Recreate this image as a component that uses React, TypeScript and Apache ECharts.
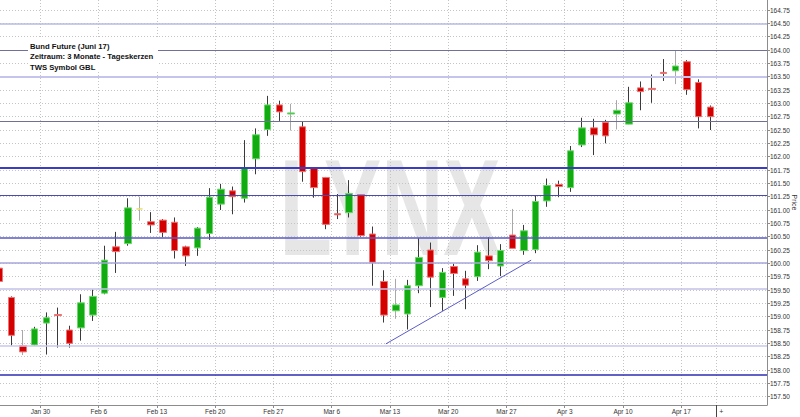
import React, { useEffect, useRef } from 'react';
import * as echarts from 'echarts';

// Trading days shown (one candle per weekday)
const dates = [
  '2017-01-24', '2017-01-25', '2017-01-26', '2017-01-27', '2017-01-30', '2017-01-31',
  '2017-02-01', '2017-02-02', '2017-02-03', '2017-02-06', '2017-02-07', '2017-02-08', '2017-02-09', '2017-02-10',
  '2017-02-13', '2017-02-14', '2017-02-15', '2017-02-16', '2017-02-17', '2017-02-20', '2017-02-21', '2017-02-22',
  '2017-02-23', '2017-02-24', '2017-02-27', '2017-02-28', '2017-03-01', '2017-03-02', '2017-03-03', '2017-03-06',
  '2017-03-07', '2017-03-08', '2017-03-09', '2017-03-10', '2017-03-13', '2017-03-14', '2017-03-15', '2017-03-16',
  '2017-03-17', '2017-03-20', '2017-03-21', '2017-03-22', '2017-03-23', '2017-03-24', '2017-03-27', '2017-03-28',
  '2017-03-29', '2017-03-30', '2017-03-31', '2017-04-03', '2017-04-04', '2017-04-05', '2017-04-06', '2017-04-07',
  '2017-04-10', '2017-04-11', '2017-04-12', '2017-04-13', '2017-04-14', '2017-04-17', '2017-04-18', '2017-04-19',
];

const open = [
  159.91, 159.36, 158.46, 158.47, 158.88, 159.04, 158.75, 158.79, 159.03, 159.44,
  160.31, 160.37, 161.02, 160.78, 160.81, 160.77, 160.31, 160.29, 160.56, 161.11,
  161.36, 161.22, 161.96, 162.51, 162.97, 162.80, 162.56, 161.79, 161.61, 160.93,
  160.95, 161.29, 160.55, 159.66, 159.11, 159.05, 159.58, 160.25, 159.36, 159.94,
  159.71, 159.75, 160.14, 159.95, 160.53, 160.24, 160.26, 161.17, 161.48, 161.42,
  162.22, 162.54, 162.64, 162.80, 162.61, 163.29, 163.28, 163.58, 163.61, 163.78,
  163.39, 162.93,
];
const high = [
  159.93, 159.38, 158.75, 158.81, 159.08, 159.17, 158.83, 159.42, 159.51, 160.33,
  160.59, 161.22, 161.25, 160.96, 160.83, 160.86, 160.33, 160.68, 161.41, 161.49,
  161.44, 162.31, 162.53, 163.14, 163.05, 162.99, 162.66, 161.80, 161.62, 161.30,
  161.56, 161.30, 160.69, 159.87, 159.71, 159.69, 160.47, 160.39, 159.91, 159.99,
  159.86, 160.34, 160.49, 160.36, 161.02, 160.72, 161.27, 161.59, 161.55, 162.20,
  162.73, 162.71, 162.69, 163.06, 163.31, 163.41, 163.54, 163.83, 164.00, 163.81,
  163.45, 162.96,
];
const low = [
  159.44, 158.46, 158.28, 158.46, 158.29, 158.42, 158.42, 158.55, 158.92, 159.42,
  159.82, 160.33, 160.80, 160.57, 160.49, 160.09, 159.95, 160.14, 160.44, 161.00,
  160.92, 161.14, 161.67, 162.39, 162.67, 162.49, 161.53, 161.23, 160.64, 160.83,
  160.86, 160.50, 159.58, 158.89, 158.96, 158.76, 159.44, 159.18, 159.11, 159.39,
  159.14, 159.67, 159.89, 159.76, 160.28, 160.16, 160.19, 161.06, 161.24, 161.34,
  162.18, 162.03, 162.25, 162.51, 162.61, 162.87, 163.01, 163.42, 163.36, 163.16,
  162.53, 162.50,
];
const close = [
  159.66, 158.65, 158.34, 158.77, 158.98, 159.02, 158.50, 159.26, 159.38, 160.06,
  160.22, 161.04, 161.02, 160.72, 160.58, 160.24, 160.14, 160.66, 161.24, 161.39,
  161.25, 161.79, 162.41, 162.97, 162.84, 162.82, 161.72, 161.42, 160.73, 160.91,
  161.31, 160.52, 160.02, 159.03, 159.22, 159.58, 160.11, 159.74, 159.83, 159.81,
  159.59, 160.21, 160.05, 160.24, 160.28, 160.61, 161.16, 161.46, 161.44, 162.11,
  162.54, 162.41, 162.39, 162.87, 163.01, 163.22, 163.26, 163.56, 163.70, 163.26,
  162.75, 162.75,
];

const weekLabels = ['Jan 30', 'Feb 6', 'Feb 13', 'Feb 20', 'Feb 27', 'Mar 6', 'Mar 13', 'Mar 20', 'Mar 27', 'Apr 3', 'Apr 10', 'Apr 17'];
const weekDates = ['2017-01-30', '2017-02-06', '2017-02-13', '2017-02-20', '2017-02-27', '2017-03-06', '2017-03-13', '2017-03-20', '2017-03-27', '2017-04-03', '2017-04-10', '2017-04-17'];

const priceTicks = [
  157.5, 157.75, 158.0, 158.25, 158.5, 158.75, 159.0, 159.25, 159.5, 159.75, 160.0, 160.25,
  160.5, 160.75, 161.0, 161.25, 161.5, 161.75, 162.0, 162.25, 162.5, 162.75, 163.0, 163.25,
  163.5, 163.75, 164.0, 164.25, 164.5, 164.75,
];

// horizontal support / resistance levels
const levelValues = [164.5, 164.0, 163.5, 162.66, 161.8, 161.27, 160.48, 160.02, 159.52, 158.45, 157.91];
// trend line: [trading-day index, price]
const trendLine = [[33.15, 158.49], [45.62, 160.06]];

const unchangedDays = [12];
const lightWickDays = [2, 12, 25, 34, 44, 53, 58];

const titleLines = ['Bund Future (Juni 17)', 'Zeitraum: 3 Monate - Tageskerzen', 'TWS Symbol GBL'];

export default function App() {
  const ref = useRef<HTMLDivElement>(null);
  useEffect(() => {
    const chart = echarts.init(ref.current!, null, { renderer: 'svg' });
    const FONT = 'Liberation Sans';
    const X_MIN = 0.0258;
    const X_MAX = 65.863;
    const Y_MIN = 157.34375;
    const Y_MAX = 164.9375;

    const boundaries = weekDates.map((d) => dates.findIndex((x) => x >= d) - 0.5);
    const endMark = dates.length - 0.5;
    const labelFor = (v: number) => {
      const k = boundaries.findIndex((b) => Math.abs(b - v) < 1e-6);
      return k >= 0 ? weekLabels[k] : '';
    };

    const levelStyles = [
      { color: '#b8b8e6', width: 1.5 },
      { color: '#70709a', width: 1 },
      { color: '#c4c4ec', width: 2 },
      { color: '#707094', width: 1 },
      { color: '#3c3cc0', width: 2 },
      { color: '#4a4ab0', width: 1 },
      { color: '#5a5ac4', width: 1.5 },
      { color: '#a6a6dc', width: 1.5 },
      { color: '#c2c2ea', width: 1.5 },
      { color: '#c8c8ee', width: 1.5 },
      { color: '#2c2cb4', width: 1.5 },
    ];

    const GREEN = '#12ac12';
    const GREEN_B = '#6cd86c';
    const RED = '#d40000';
    const RED_B = '#ec7474';
    const YELLOW = '#e8e070';

    const bodyData = dates.map((_, i) => {
      const v = [i, open[i], close[i], Math.min(open[i], close[i]), Math.max(open[i], close[i])];
      if (unchangedDays.includes(i)) {
        return {
          value: v,
          itemStyle: { color: YELLOW, color0: YELLOW, borderColor: YELLOW, borderColor0: YELLOW, borderColorDoji: YELLOW },
        };
      }
      return v;
    });
    const wickData = dates.map((_, i) => {
      const v = [i, open[i], close[i], low[i], high[i]];
      if (lightWickDays.includes(i)) {
        const c = '#a8a8a8';
        return { value: v, itemStyle: { color: c, color0: c, borderColor: c, borderColor0: c, borderColorDoji: c } };
      }
      return v;
    });

    const gridDots = { color: '#c4c4c4', type: [1, 2] as any, width: 1 };

    const option: any = {
      animation: false,
      backgroundColor: '#ffffff',
      grid: { left: 0, top: 0, right: 33, bottom: 12, containLabel: false, outerBoundsMode: 'none' },
      xAxis: [
        {
          type: 'value',
          min: X_MIN,
          max: X_MAX,
          position: 'bottom',
          axisLine: { show: true, lineStyle: { color: '#8c8c8c', width: 1 } },
          axisTick: { show: true, length: 3, customValues: [...boundaries, endMark], lineStyle: { color: '#8c8c8c' } },
          axisLabel: {
            customValues: boundaries,
            formatter: (v: number) => labelFor(v),
            fontSize: 6.5,
            fontFamily: FONT,
            color: '#333',
            margin: 3,
          },
          splitLine: { show: true, lineStyle: gridDots },
        },
        {
          type: 'value',
          min: X_MIN,
          max: X_MAX,
          position: 'bottom',
          axisLine: { show: false },
          axisTick: { show: true, length: 12, customValues: [endMark], lineStyle: { color: '#444' } },
          axisLabel: {
            customValues: [endMark],
            formatter: () => '+',
            fontSize: 7,
            fontFamily: FONT,
            color: '#333',
            align: 'left',
            padding: [0, 0, 0, 3],
            margin: 3,
          },
          splitLine: { show: false },
        },
      ],
      yAxis: {
        type: 'value',
        position: 'right',
        min: Y_MIN,
        max: Y_MAX,
        name: 'Price',
        nameLocation: 'middle',
        nameRotate: -90,
        nameGap: 24,
        nameMoveOverlap: false,
        nameTextStyle: { fontSize: 7, fontFamily: FONT, color: '#333' },
        axisLine: { show: true, lineStyle: { color: '#8c8c8c', width: 1 } },
        axisTick: { show: true, length: 3, customValues: priceTicks, lineStyle: { color: '#8c8c8c' } },
        axisLabel: {
          customValues: priceTicks,
          formatter: (v: number) => v.toFixed(2),
          fontSize: 6.5,
          fontFamily: FONT,
          color: '#333',
          margin: 3,
        },
        splitLine: { show: true, lineStyle: gridDots },
      },
      graphic: {
        elements: [
          {
            type: 'text',
            x: 390,
            y: 207,
            scaleX: 0.627,
            z: -1,
            silent: true,
            style: {
              text: 'LYNX',
              font: `bold 137px "${FONT}"`,
              fill: '#e6e6e6',
              textAlign: 'center',
              textVerticalAlign: 'middle',
            },
          },
          {
            type: 'rect',
            z: 100,
            silent: true,
            shape: { x: 28, y: 38, width: 130, height: 34 },
            style: { fill: '#ffffff' },
          },
          ...titleLines.map((t, k) => ({
            type: 'text',
            z: 101,
            silent: true,
            x: 30,
            y: 46 + k * 10.5,
            style: {
              text: t,
              font: `bold 7.7px "${FONT}"`,
              fill: '#111',
              textAlign: 'left',
              textVerticalAlign: 'middle',
            },
          })),
        ],
      },
      series: [
        {
          type: 'candlestick',
          name: 'wicks',
          xAxisIndex: 0,
          data: wickData,
          encode: { x: 0, y: [1, 2, 3, 4] },
          barWidth: 0.4,
          z: 2,
          itemStyle: {
            color: '#3a3a3a',
            color0: '#3a3a3a',
            borderColor: '#3a3a3a',
            borderColor0: '#3a3a3a',
            borderColorDoji: '#3a3a3a',
            borderWidth: 1,
          },
        },
        {
          type: 'candlestick',
          name: 'bodies',
          xAxisIndex: 0,
          data: bodyData,
          encode: { x: 0, y: [1, 2, 3, 4] },
          barWidth: 7,
          z: 3,
          itemStyle: {
            color: GREEN,
            color0: RED,
            borderColor: GREEN_B,
            borderColor0: RED_B,
            borderColorDoji: RED,
            borderWidth: 1,
          },
        },
        {
          type: 'line',
          name: 'trend',
          xAxisIndex: 0,
          data: trendLine,
          symbol: 'none',
          z: 5,
          lineStyle: { color: '#5c5cc8', width: 1 },
          markLine: {
            silent: true,
            symbol: 'none',
            label: { show: false },
            data: levelValues.map((v, k) => ({
              yAxis: v,
              lineStyle: { color: levelStyles[k].color, width: levelStyles[k].width, type: 'solid' },
            })),
          },
        },
      ],
    };
    chart.setOption(option);
    return () => chart.dispose();
  }, []);
  return (
    <div
      ref={ref}
      style={{ position: 'fixed', left: 0, top: 0, width: 800, height: 417, background: '#ffffff' }}
    />
  );
}
